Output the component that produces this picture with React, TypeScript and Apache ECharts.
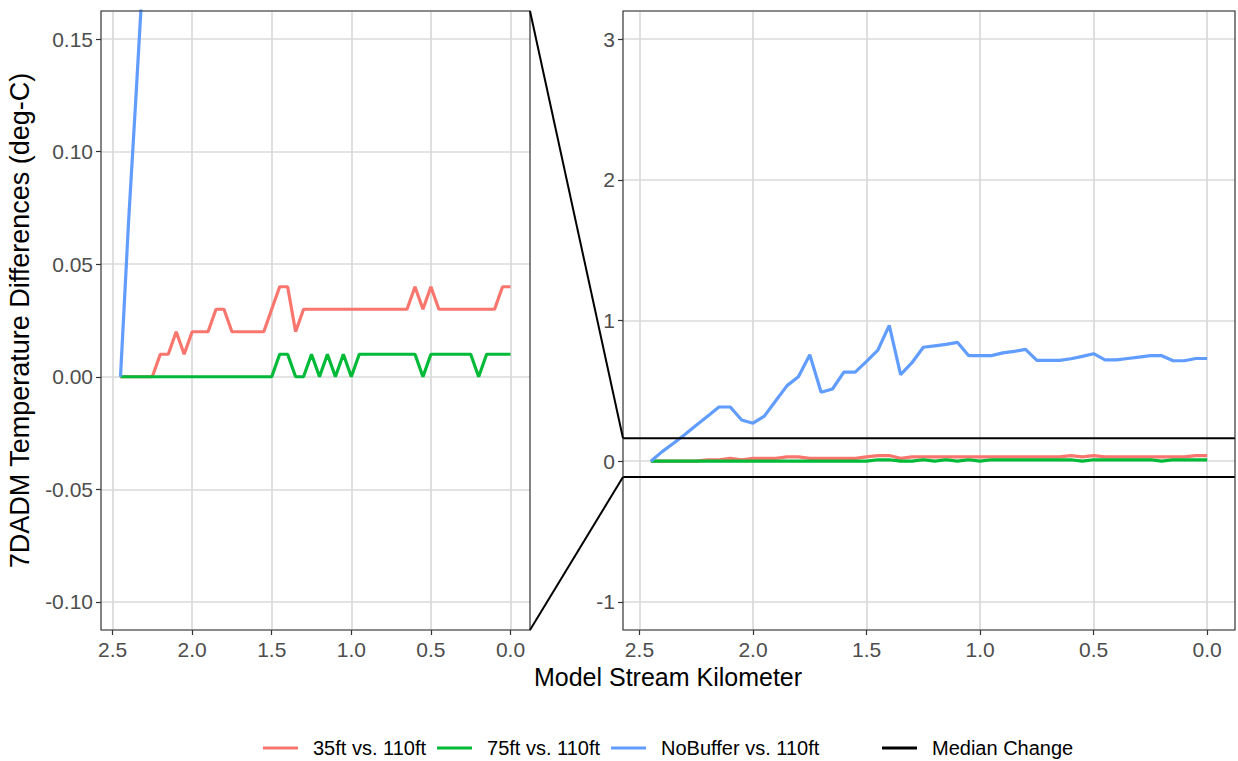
import React, { useEffect, useRef } from "react";
import * as echarts from "echarts";

// Model stream kilometer (downstream toward 0)
const km = [
  2.45, 2.4, 2.35, 2.3, 2.25, 2.2, 2.15, 2.1, 2.05, 2.0,
  1.95, 1.9, 1.85, 1.8, 1.75, 1.7, 1.65, 1.6, 1.55, 1.5,
  1.45, 1.4, 1.35, 1.3, 1.25, 1.2, 1.15, 1.1, 1.05, 1.0,
  0.95, 0.9, 0.85, 0.8, 0.75, 0.7, 0.65, 0.6, 0.55, 0.5,
  0.45, 0.4, 0.35, 0.3, 0.25, 0.2, 0.15, 0.1, 0.05, 0.0,
];

// 7DADM temperature differences (deg-C) relative to the 110ft buffer
const diff35ft = [
  0, 0, 0, 0, 0, 0.01, 0.01, 0.02, 0.01, 0.02,
  0.02, 0.02, 0.03, 0.03, 0.02, 0.02, 0.02, 0.02, 0.02, 0.03,
  0.04, 0.04, 0.02, 0.03, 0.03, 0.03, 0.03, 0.03, 0.03, 0.03,
  0.03, 0.03, 0.03, 0.03, 0.03, 0.03, 0.03, 0.04, 0.03, 0.04,
  0.03, 0.03, 0.03, 0.03, 0.03, 0.03, 0.03, 0.03, 0.04, 0.04,
];
const diff75ft = [
  0, 0, 0, 0, 0, 0, 0, 0, 0, 0,
  0, 0, 0, 0, 0, 0, 0, 0, 0, 0,
  0.01, 0.01, 0, 0, 0.01, 0, 0.01, 0, 0.01, 0,
  0.01, 0.01, 0.01, 0.01, 0.01, 0.01, 0.01, 0.01, 0, 0.01,
  0.01, 0.01, 0.01, 0.01, 0.01, 0, 0.01, 0.01, 0.01, 0.01,
];
const diffNoBuffer = [
  0, 0.068, 0.128, 0.19, 0.255, 0.32, 0.385, 0.385, 0.293, 0.27,
  0.32, 0.43, 0.537, 0.6, 0.757, 0.49, 0.513, 0.633, 0.633, 0.709,
  0.79, 0.965, 0.615, 0.7, 0.81, 0.82, 0.83, 0.845, 0.75, 0.75,
  0.75, 0.77, 0.78, 0.795, 0.716, 0.716, 0.716, 0.728, 0.745, 0.764,
  0.72, 0.72, 0.73, 0.74, 0.75, 0.75, 0.714, 0.714, 0.73, 0.73,
];

const seriesNames = ["35ft vs. 110ft", "75ft vs. 110ft", "NoBuffer vs. 110ft"];
const seriesColors = ["#F8766D", "#00BA38", "#619CFF"];
const medianName = "Median Change";

const xTicks = [0, 0.5, 1, 1.5, 2, 2.5];
const xRange = [-0.1225, 2.5725];
// y-limits of the zoomed panel, outlined as a band in the full panel
const zoomRange = [-0.1125, 0.1625];
const fullRange = [-1.2, 3.2];

const FONT = "'Liberation Sans', Arial, sans-serif";
const GRID_COLOR = "#dadada";
const BORDER_COLOR = "#333333";
const LABEL_COLOR = "#4d4d4d";

function xAxisFor(gridIndex: number) {
  return {
    type: "value",
    gridIndex,
    inverse: true,
    min: xRange[0],
    max: xRange[1],
    minInterval: 0.5,
    maxInterval: 0.5,
    axisLine: { show: false, onZero: false },
    axisTick: {
      show: true,
      length: 5,
      customValues: xTicks,
      lineStyle: { color: BORDER_COLOR, width: 1.2 },
    },
    axisLabel: {
      customValues: xTicks,
      fontSize: 21,
      color: LABEL_COLOR,
      margin: 9,
      formatter: (v: number) => v.toFixed(1),
    },
    splitLine: { show: true, lineStyle: { color: GRID_COLOR, width: 1.7 } },
  };
}

function legendFor(names: string[], left: number) {
  return {
    data: names,
    left,
    top: 738,
    padding: 0,
    icon: "rect",
    itemWidth: 35,
    itemHeight: 3,
    itemGap: 11,
    textStyle: { fontSize: 20, color: "#000000", fontFamily: FONT, padding: [0, 0, 0, 10] },
  };
}

export default function App() {
  const ref = useRef<HTMLDivElement | null>(null);

  useEffect(() => {
    if (!ref.current) return;
    const chart = echarts.init(ref.current, undefined, { renderer: "svg" });

    const pairs = (ys: number[]) => km.map((k, i) => [k, ys[i]]);
    const allValues = [diff35ft, diff75ft, diffNoBuffer];

    const dataSeries: any[] = [];
    [0, 1].forEach((g) => {
      allValues.forEach((vals, i) => {
        dataSeries.push({
          type: "line",
          name: seriesNames[i],
          xAxisIndex: g,
          yAxisIndex: g,
          data: pairs(vals),
          symbol: "none",
          color: seriesColors[i],
          lineStyle: { width: 3.2, color: seriesColors[i] },
          z: 3,
        });
      });
    });

    // outline of the zoomed y-range drawn across the full panel
    zoomRange.forEach((y) => {
      dataSeries.push({
        type: "line",
        name: medianName,
        xAxisIndex: 1,
        yAxisIndex: 1,
        data: [
          [xRange[1], y],
          [xRange[0], y],
        ],
        symbol: "none",
        color: "#000000",
        lineStyle: { width: 2, color: "#000000" },
        clip: false,
        z: 4,
      });
    });

    const yCommon = {
      type: "value",
      axisLine: { show: false, onZero: false },
      axisTick: { show: true, length: 5, lineStyle: { color: BORDER_COLOR, width: 1.2 } },
      splitLine: { show: true, lineStyle: { color: GRID_COLOR, width: 1.7 } },
    };

    const option: any = {
      animation: false,
      textStyle: { fontFamily: FONT },
      grid: [
        { left: 101, top: 11, width: 429, height: 619, show: true, borderColor: BORDER_COLOR, borderWidth: 1.2, backgroundColor: "transparent", z: 5 },
        { left: 623, top: 11, width: 612, height: 619, show: true, borderColor: BORDER_COLOR, borderWidth: 1.2, backgroundColor: "transparent", z: 5 },
      ],
      xAxis: [xAxisFor(0), xAxisFor(1)],
      yAxis: [
        {
          ...yCommon,
          gridIndex: 0,
          min: zoomRange[0],
          max: zoomRange[1],
          minInterval: 0.05,
          maxInterval: 0.05,
          name: "7DADM Temperature Differences (deg-C)",
          nameLocation: "middle",
          nameGap: 68,
          nameTextStyle: { fontSize: 27, color: "#000000", fontFamily: FONT },
          axisLabel: {
            showMinLabel: false,
            showMaxLabel: false,
            fontSize: 21,
            color: LABEL_COLOR,
            margin: 8,
            formatter: (v: number) => v.toFixed(2),
          },
        },
        {
          ...yCommon,
          gridIndex: 1,
          min: fullRange[0],
          max: fullRange[1],
          minInterval: 1,
          maxInterval: 1,
          axisLabel: {
            showMinLabel: false,
            showMaxLabel: false,
            fontSize: 21,
            color: LABEL_COLOR,
            margin: 8,
            formatter: (v: number) => String(Math.round(v)),
          },
        },
      ],
      legend: [legendFor(seriesNames, 263), legendFor([medianName], 882)],
      series: dataSeries,
    };

    chart.setOption(option);

    // connectors from the zoomed panel's corners to the band in the full panel
    const topLeft = chart.convertToPixel({ gridIndex: 0 } as any, [xRange[0], zoomRange[1]]) as number[];
    const botLeft = chart.convertToPixel({ gridIndex: 0 } as any, [xRange[0], zoomRange[0]]) as number[];
    const topRight = chart.convertToPixel({ gridIndex: 1 } as any, [xRange[1], zoomRange[1]]) as number[];
    const botRight = chart.convertToPixel({ gridIndex: 1 } as any, [xRange[1], zoomRange[0]]) as number[];

    chart.setOption({
      graphic: [
        {
          type: "text",
          x: 668,
          y: 677,
          style: {
            text: "Model Stream Kilometer",
            fontSize: 25,
            fontFamily: FONT,
            fill: "#000000",
            align: "center",
            verticalAlign: "middle",
          },
        },
        {
          type: "line",
          shape: { x1: topLeft[0], y1: topLeft[1], x2: topRight[0], y2: topRight[1] },
          style: { stroke: "#000000", lineWidth: 2 },
          z: 10,
        },
        {
          type: "line",
          shape: { x1: botLeft[0], y1: botLeft[1], x2: botRight[0], y2: botRight[1] },
          style: { stroke: "#000000", lineWidth: 2 },
          z: 10,
        },
      ],
    });

    return () => chart.dispose();
  }, []);

  return (
    <div
      ref={ref}
      style={{ position: "fixed", left: 0, top: 0, width: 1238, height: 761, background: "#ffffff" }}
    />
  );
}
